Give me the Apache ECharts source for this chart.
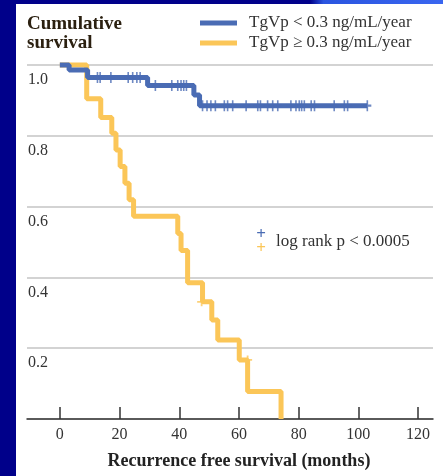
<!DOCTYPE html>
<html>
<head>
<meta charset="utf-8">
<script src="https://cdn.jsdelivr.net/npm/echarts@6/dist/echarts.min.js"></script>
<style>
  html, body { margin: 0; padding: 0; background: #fff; }
  #chart { width: 443px; height: 476px; }
</style>
</head>
<body>
<div id="chart"></div>
<script>
// 低 TgVp 组 (< 0.3 ng/mL/year)
const lowName = 'TgVp < 0.3 ng/mL/year';
const lowTime = [0, 3.1, 9.3, 29.4, 44.9, 46.8, 103];
const lowSurv = [1.0, 0.986, 0.965, 0.942, 0.915, 0.885, 0.885];
const lowCensorTime = [12.6, 13.5, 17.1, 22.9, 24.4, 25.8, 26.9,
  32.0, 37.5, 39.5, 40.6, 41.5, 42.4,
  47.8, 49.3, 50.6, 52.1, 55.1, 56.2, 57.9, 62.4, 66.3, 67.2, 69.6, 71.3,
  73.0, 77.4, 79.1, 80.2, 81.0, 81.9, 84.2, 85.3, 91.9, 95.3, 96.4, 103];
const lowCensorSurv = [0.965, 0.965, 0.965, 0.965, 0.965, 0.965, 0.965,
  0.942, 0.942, 0.942, 0.942, 0.942, 0.942,
  0.885, 0.885, 0.885, 0.885, 0.885, 0.885, 0.885, 0.885, 0.885, 0.885, 0.885, 0.885,
  0.885, 0.885, 0.885, 0.885, 0.885, 0.885, 0.885, 0.885, 0.885, 0.885, 0.885, 0.885];

// 高 TgVp 组 (≥ 0.3 ng/mL/year)
const highName = 'TgVp ≥ 0.3 ng/mL/year';
const highTime = [0, 9.0, 13.7, 17.4, 18.8, 20.2, 21.8, 23.2, 24.7, 39.5, 40.6, 42.8,
  47.8, 50.9, 52.9, 60.1, 62.9, 74.1];
const highSurv = [1.0, 0.905, 0.852, 0.807, 0.760, 0.713, 0.666, 0.619, 0.573, 0.524, 0.476, 0.385,
  0.331, 0.280, 0.223, 0.167, 0.078, 0];
const highCensorTime = [47.5, 62.9];
const highCensorSurv = [0.331, 0.167];

const xTicks = [0, 20, 40, 60, 80, 100, 120];
const yTicks = [0, 0.2, 0.4, 0.6, 0.8, 1.0];

const blue = '#4a6cb4';
const yellow = '#fbc658';
const serif = "'Liberation Serif', 'Times New Roman', serif";
const plus = 'path://M4,0H6V4H10V6H6V10H4V6H0V4H4Z';

function pairs(a, b) {
  return a.map((v, i) => [v, b[i]]);
}

let myChart = echarts.init(document.getElementById('chart'));
let option = {
  backgroundColor: '#fff',
  animation: false,
  title: {
    text: 'Cumulative\nsurvival',
    left: 27,
    top: 15,
    padding: 0,
    textStyle: {
      fontFamily: serif,
      fontWeight: 'bold',
      fontSize: 19,
      lineHeight: 19,
      color: '#2b2010'
    }
  },
  legend: {
    data: [lowName, highName],
    orient: 'vertical',
    left: 200,
    top: 13,
    padding: 0,
    itemGap: 0,
    itemWidth: 37,
    itemHeight: 5,
    icon: 'rect',
    textStyle: {
      fontFamily: serif,
      fontSize: 17,
      lineHeight: 20,
      color: '#333',
      padding: [0, 0, 0, 7]
    }
  },
  grid: {
    left: 27,
    right: 10,
    top: 65,
    bottom: 57
  },
  xAxis: {
    type: 'value',
    min: -11,
    max: 125,
    name: 'Recurrence free survival (months)',
    nameLocation: 'middle',
    nameGap: 33,
    nameTextStyle: {
      fontFamily: serif,
      fontWeight: 'bold',
      fontSize: 18,
      color: '#222',
      padding: [0, 0, 0, 18]
    },
    axisLine: { show: true, lineStyle: { color: '#333', width: 1.5 } },
    axisTick: {
      show: true,
      inside: true,
      length: 12,
      customValues: xTicks,
      lineStyle: { color: '#333', width: 1.5 }
    },
    axisLabel: {
      customValues: xTicks,
      margin: 8,
      fontFamily: serif,
      fontSize: 16,
      color: '#333'
    },
    splitLine: { show: false }
  },
  yAxis: {
    type: 'value',
    min: 0,
    max: 1.0,
    axisLine: { show: false },
    axisTick: { show: false },
    axisLabel: {
      inside: true,
      customValues: yTicks,
      margin: 1,
      verticalAlign: 'top',
      padding: [7, 0, 0, 0],
      fontFamily: serif,
      fontSize: 16,
      color: '#333',
      formatter: v => (v === 0 ? '' : v.toFixed(1))
    },
    splitLine: { show: true, lineStyle: { color: '#c4c4c4', width: 1.5 } }
  },
  series: [
    {
      name: highName,
      type: 'line',
      step: 'end',
      symbol: 'none',
      clip: false,
      z: 2,
      color: yellow,
      lineStyle: { color: yellow, width: 5 },
      data: pairs(highTime, highSurv)
    },
    {
      name: lowName,
      type: 'line',
      step: 'end',
      symbol: 'none',
      clip: false,
      z: 3,
      color: blue,
      lineStyle: { color: blue, width: 5 },
      data: pairs(lowTime, lowSurv)
    },
    {
      name: 'high censored',
      type: 'scatter',
      symbol: plus,
      symbolSize: [9, 9],
      z: 4,
      itemStyle: { color: yellow },
      data: pairs(highCensorTime, highCensorSurv)
    },
    {
      name: 'low censored',
      type: 'scatter',
      symbol: plus,
      symbolSize: [8, 11],
      z: 4,
      itemStyle: { color: blue },
      data: pairs(lowCensorTime, lowCensorSurv)
    }
  ],
  graphic: [
    // 边框
    { type: 'rect', left: 0, top: 0, z: 100, shape: { width: 16, height: 476 }, style: { fill: '#00008a' } },
    {
      type: 'rect', left: 0, top: 0, z: 100, shape: { width: 443, height: 4 },
      style: {
        fill: new echarts.graphic.LinearGradient(0, 0, 1, 0, [
          { offset: 0, color: '#00008a' },
          { offset: 0.7, color: '#00008a' },
          { offset: 0.73, color: '#2a55e0' },
          { offset: 1, color: '#3a66f0' }
        ])
      }
    },
    // log rank 注释
    { type: 'text', x: 261, y: 235, z: 100, style: { text: '+', fill: blue, font: 'bold 17px ' + serif, align: 'center', verticalAlign: 'middle' } },
    { type: 'text', x: 261, y: 249, z: 100, style: { text: '+', fill: yellow, font: 'bold 17px ' + serif, align: 'center', verticalAlign: 'middle' } },
    { type: 'text', x: 276, y: 242, z: 100, style: { text: 'log rank p < 0.0005', fill: '#333', font: '17px ' + serif, verticalAlign: 'middle' } }
  ]
};

// 使用刚指定的配置项和数据显示图表。
myChart.setOption(option);
</script>
</body>
</html>
